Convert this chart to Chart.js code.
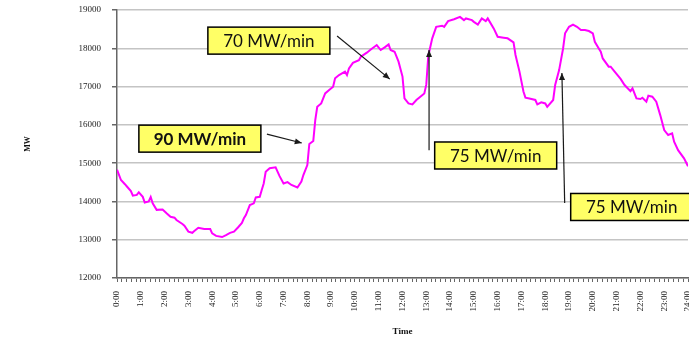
<!DOCTYPE html>
<html>

<head>
    <meta charset="utf-8">
    <script src="https://cdn.jsdelivr.net/npm/chart.js@4.4.7/dist/chart.umd.min.js"></script>
    <style>
        html, body { margin: 0; padding: 0; overflow: hidden; background: #fff; }
    </style>
</head>

<body>
    <canvas id="wykres" width="720" height="337"></canvas>
    <script>
        // time of day in minutes, load in MW
        const minutes = [0,10,20,25,35,40,50,55,65,70,
            80,85,90,100,115,125,135,145,150,165,
            170,180,190,195,205,220,235,240,250,265,
            275,285,295,305,315,320,325,335,345,350,
            360,365,370,375,385,400,410,420,430,440,
            455,465,470,480,485,495,500,505,515,525,
            535,545,550,560,575,580,585,595,610,615,
            630,640,655,665,675,685,690,700,710,720,
            725,735,745,755,765,775,780,785,795,805,
            820,825,835,850,865,875,880,895,900,910,
            920,930,935,950,960,975,985,1000,1005,1015,
            1025,1030,1040,1055,1060,1070,1080,1085,1100,1105,
            1115,1125,1130,1140,1150,1160,1170,1180,1190,1200,
            1205,1215,1220,1225,1240,1245,1255,1270,1280,1295,
            1300,1310,1320,1325,1335,1340,1350,1360,1370,1380,
            1390,1400,1405,1415,1430,1440]
        const mw = [14830,14560,14450,14390,14270,14150,14170,14240,14120,13970,
            14000,14115,13950,13780,13790,13690,13600,13575,13515,13410,
            13365,13210,13180,13225,13310,13280,13280,13165,13100,13070,
            13120,13180,13210,13320,13440,13560,13645,13905,13950,14105,
            14120,14300,14470,14775,14865,14890,14660,14470,14505,14430,
            14365,14520,14690,14950,15500,15580,16125,16470,16560,16820,
            16910,16995,17215,17300,17390,17300,17475,17620,17690,17780,
            17885,17970,18085,17955,18025,18100,17955,17910,17650,17260,
            16690,16560,16535,16650,16735,16820,17050,17800,18260,18560,
            18590,18560,18710,18760,18820,18735,18780,18735,18690,18620,
            18780,18710,18780,18520,18300,18275,18260,18155,17825,17390,
            16870,16710,16690,16650,16535,16590,16560,16470,16650,17040,
            17430,17995,18390,18560,18620,18560,18475,18475,18450,18390,
            18170,17995,17910,17735,17520,17520,17390,17200,17040,16880,
            16955,16690,16675,16710,16605,16760,16735,16605,16255,15865,
            15735,15780,15560,15340,15125,14920]

        const yMin = 12000, yMax = 19000, yStep = 1000
        const xMin = 0, xMax = 1440

        // ramp-rate call-outs, placed in data units (minutes, MW)
        const noteTexts = ["70 MW/min", "90 MW/min", "75 MW/min", "75 MW/min"]
        const noteAt = [[383, 18200], [209, 15640], [955, 15200], [1298, 13855]]
        const noteBold = [false, true, false, false]
        const arrowFrom = [[555, 18320], [378, 15760], [787, 15340], [1129, 13960]]
        const arrowTo = [[688, 17195], [466, 15525], [787, 17955], [1122, 17355]]

        const punkty = minutes.map((m, i) => ({ x: m, y: mw[i] }))

        const notki = {
            id: "notki",
            afterDatasetsDraw(chart) {
                const ctx = chart.ctx
                const sx = chart.scales.x, sy = chart.scales.y
                ctx.save()
                // arrows
                ctx.strokeStyle = "#1a1a1a"
                ctx.fillStyle = "#1a1a1a"
                ctx.lineWidth = 1.2
                for (let i = 0; i < arrowFrom.length; i++) {
                    const x1 = sx.getPixelForValue(arrowFrom[i][0]), y1 = sy.getPixelForValue(arrowFrom[i][1])
                    const x2 = sx.getPixelForValue(arrowTo[i][0]), y2 = sy.getPixelForValue(arrowTo[i][1])
                    const a = Math.atan2(y2 - y1, x2 - x1)
                    ctx.beginPath()
                    ctx.moveTo(x1, y1)
                    ctx.lineTo(x2, y2)
                    ctx.stroke()
                    ctx.beginPath()
                    ctx.moveTo(x2, y2)
                    ctx.lineTo(x2 - 7 * Math.cos(a) + 3 * Math.sin(a), y2 - 7 * Math.sin(a) - 3 * Math.cos(a))
                    ctx.lineTo(x2 - 7 * Math.cos(a) - 3 * Math.sin(a), y2 - 7 * Math.sin(a) + 3 * Math.cos(a))
                    ctx.closePath()
                    ctx.fill()
                }
                // boxes
                const w = 122, h = 27
                for (let i = 0; i < noteTexts.length; i++) {
                    const cx = sx.getPixelForValue(noteAt[i][0]), cy = sy.getPixelForValue(noteAt[i][1])
                    ctx.fillStyle = "#ffff66"
                    ctx.fillRect(cx - w / 2, cy - h / 2, w, h)
                    ctx.strokeStyle = "#000"
                    ctx.lineWidth = 1.5
                    ctx.strokeRect(cx - w / 2, cy - h / 2, w, h)
                    ctx.fillStyle = "#111"
                    ctx.font = (noteBold[i] ? "bold " : "") + "17px Lato"
                    ctx.textAlign = "center"
                    ctx.textBaseline = "middle"
                    ctx.fillText(noteTexts[i], cx, cy + 1)
                }
                ctx.restore()
            }
        }

        const ctx = document.getElementById("wykres").getContext("2d")
        const wykres = new Chart(ctx, {
            type: "line",
            data: {
                datasets: [{
                    label: "MW",
                    data: punkty,
                    borderColor: "#ff00ff",
                    borderWidth: 2,
                    pointRadius: 0,
                    tension: 0,
                    fill: false
                }]
            },
            options: {
                responsive: false,
                animation: false,
                layout: { padding: { top: 10, right: 32, bottom: 0, left: 0 } },
                plugins: { legend: { display: false }, tooltip: { enabled: false } },
                scales: {
                    x: {
                        type: "linear",
                        min: xMin,
                        max: xMax,
                        afterFit(s) { s.height = 59 },
                        ticks: {
                            stepSize: 12,
                            autoSkip: false,
                            minRotation: 90,
                            maxRotation: 90,
                            padding: 9,
                            color: "#222",
                            font: { family: "Liberation Serif", size: 9 },
                            callback: v => v % 60 === 0 ? (v / 60) + ":00" : ""
                        },
                        grid: { drawOnChartArea: false, tickLength: 4, tickColor: "#666", lineWidth: 1 },
                        border: { color: "#666", width: 1.5 },
                        title: {
                            display: true,
                            text: "Time",
                            color: "#111",
                            padding: { top: 0, bottom: 0 },
                            font: { family: "Liberation Serif", size: 9, weight: "bold" }
                        }
                    },
                    y: {
                        min: yMin,
                        max: yMax,
                        afterFit(s) { s.width = 117; s.paddingTop = 0; s.paddingBottom = 0 },
                        ticks: {
                            stepSize: yStep,
                            padding: 11,
                            color: "#222",
                            font: { family: "Liberation Serif", size: 9 },
                            callback: v => String(v)
                        },
                        grid: { color: "#c4c4c4", lineWidth: 1.5, tickLength: 5, tickColor: "#666" },
                        border: { color: "#666", width: 1.5 },
                        title: {
                            display: true,
                            text: "MW",
                            color: "#111",
                            padding: { top: 23, bottom: 0 },
                            font: { family: "Liberation Serif", size: 8, weight: "bold" }
                        }
                    }
                }
            },
            plugins: [notki]
        })
    </script>
</body>

</html>
